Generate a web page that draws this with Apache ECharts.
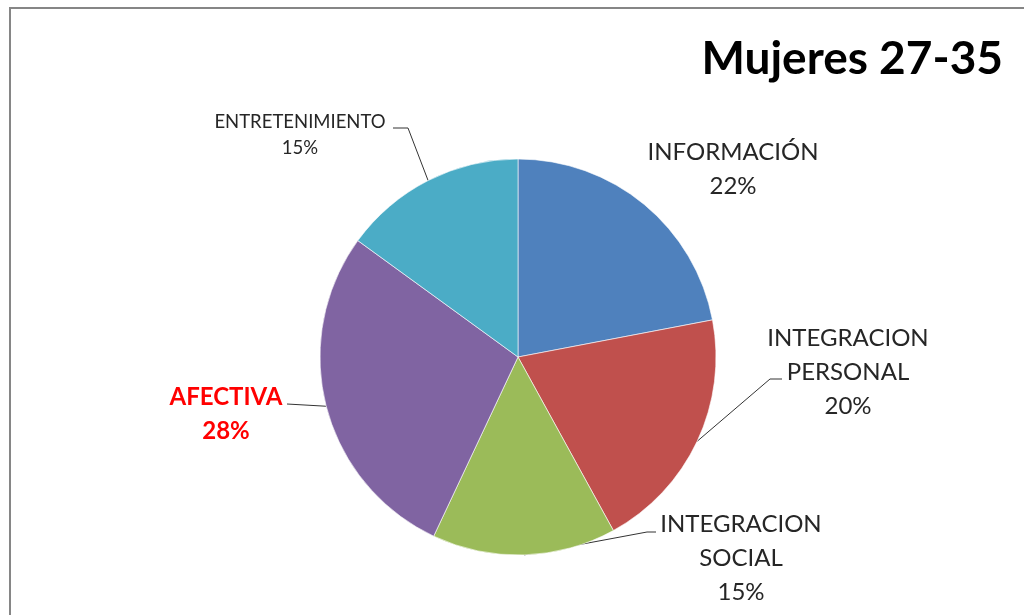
<!DOCTYPE html>
<html>
<head>
<meta charset="utf-8">
<script src="https://cdn.jsdelivr.net/npm/echarts@6/dist/echarts.min.js"></script>
<style>
  html, body { margin: 0; padding: 0; background: #fff; }
  #chart { width: 1024px; height: 615px; }
</style>
</head>
<body>
<div id="chart"></div>
<script>
// categorias y valores (%)
var categories = ["INFORMACIÓN", "INTEGRACION\nPERSONAL", "INTEGRACION\nSOCIAL", "AFECTIVA", "ENTRETENIMIENTO"];
var values = [22, 20, 15, 28, 15];
var colors = ["#4F81BD", "#C0504D", "#9BBB59", "#8064A2", "#4BACC6"];

// posicion de cada etiqueta (centro) y codos de la linea guia
var labelPos = [
  { x: 733, y: 169, line: null },
  { x: 848, y: 372, line: [[770, 379], [782, 379]] },
  { x: 741, y: 558, line: [[647, 532], [656, 532]] },
  { x: 226, y: 414, line: [[287, 404]] },
  { x: 300, y: 135, line: [[408, 128], [393, 128]] }
];

var chart = echarts.init(document.getElementById("chart"));

var pieData = categories.map(function (name, i) {
  var item = { name: name, value: values[i], itemStyle: { color: colors[i] } };
  if (!labelPos[i].line) {
    item.labelLine = { show: false };
  }
  if (i === 3) {
    // AFECTIVA resaltada en rojo
    item.label = { color: "#FF0000", fontWeight: "bold", fontSize: 24 };
  }
  if (i === 4) {
    item.label = { fontSize: 18.5, lineHeight: 26 };
  }
  return item;
});

chart.setOption({
  animation: false,
  title: {
    text: "Mujeres 27-35",
    right: 16,
    top: 31,
    textStyle: {
      fontFamily: "Lato",
      fontWeight: "bold",
      fontSize: 46,
      color: "#000"
    }
  },
  graphic: [
    {
      type: "rect",
      shape: { x: 10, y: 8, width: 1030, height: 620 },
      style: { fill: null, stroke: "#868686", lineWidth: 2 },
      silent: true
    }
  ],
  series: [
    {
      type: "pie",
      center: [518, 357],
      radius: 198,
      startAngle: 90,
      clockwise: true,
      percentPrecision: 0,
      emphasis: { disabled: true },
      itemStyle: { borderColor: "#fff", borderWidth: 0.6 },
      label: {
        show: true,
        position: "outside",
        formatter: "{b}\n{d}%",
        fontFamily: "Lato",
        fontSize: 24,
        lineHeight: 34,
        color: "#262626",
        align: "center"
      },
      labelLine: {
        show: true,
        length: 10,
        length2: 10,
        lineStyle: { color: "#333", width: 1 }
      },
      labelLayout: function (params) {
        var p = labelPos[params.dataIndex];
        var out = { x: p.x, y: p.y, align: "center", verticalAlign: "middle" };
        if (p.line && params.labelLinePoints && params.labelLinePoints[0]) {
          out.labelLinePoints = [params.labelLinePoints[0]].concat(p.line);
        }
        return out;
      },
      data: pieData
    }
  ]
});
</script>
</body>
</html>
